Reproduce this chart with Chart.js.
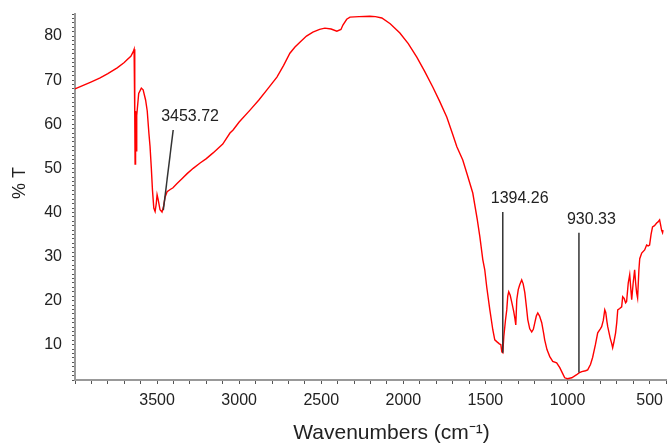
<!DOCTYPE html>
<html lang="en">
<head>
<meta charset="UTF-8">
<title>IR spectrum</title>
<script src="https://cdn.jsdelivr.net/npm/chart.js@4"></script>
<style>
  body { margin: 0; background: #fff; }
  .chart-box { width: 668px; height: 443px; }
</style>
</head>
<body>
<div class="chart-box"><canvas id="irChart"></canvas></div>
<script>
// spectrum
const wavenumbers = [
  4000, 3950, 3900, 3847, 3800, 3743, 3700, 3683, 3660, 3646, 3640,
  3636, 3634, 3631, 3628, 3624, 3612, 3596, 3585, 3570, 3560, 3550,
  3543, 3535, 3528, 3520, 3512, 3505, 3500, 3494, 3482, 3470, 3460,
  3451, 3439, 3420, 3403, 3380, 3350, 3317, 3280, 3238, 3200, 3159,
  3100, 3056, 3037, 3000, 2934, 2880, 2831, 2770, 2730, 2691, 2660,
  2630, 2590, 2551, 2510, 2478, 2440, 2405, 2380, 2368, 2345, 2325,
  2270, 2204, 2170, 2131, 2080, 2021, 1970, 1918, 1870, 1820, 1780,
  1735, 1700, 1674, 1638, 1610, 1577, 1550, 1534, 1516, 1504, 1492,
  1473, 1455, 1443, 1431, 1415, 1406, 1400, 1394, 1388, 1378, 1370,
  1364, 1358, 1349, 1340, 1328, 1321, 1315, 1309, 1300, 1291, 1279,
  1270, 1260, 1250, 1242, 1230, 1218, 1208, 1199, 1190, 1181, 1170,
  1157, 1145, 1139, 1125, 1108, 1090, 1066, 1047, 1030, 1017, 1000,
  974, 944, 930, 913, 890, 877, 860, 847, 830, 816, 800, 792, 782,
  773, 767, 760, 755, 740, 731, 725, 718, 707, 700, 694, 682, 670,
  664, 655, 646, 640, 630, 621, 615, 609, 600, 591, 585, 579, 573,
  565, 560, 548, 530, 518, 509, 500, 491, 482, 470, 457, 450, 439,
  432, 427, 421, 418
];
const transmittance = [
  68.0, 68.8, 69.6, 70.5, 71.5, 72.8, 74.0, 74.6, 75.4, 76.4, 77.0,
  62.0, 51.0, 63.0, 54.0, 62.0, 67.0, 68.2, 67.8, 65.5, 63.0, 58.0,
  55.0, 50.0, 45.0, 41.0, 40.2, 42.0, 44.0, 43.0, 40.6, 40.1, 41.5,
  43.5, 44.7, 45.2, 45.6, 46.5, 47.6, 48.8, 50.0, 51.2, 52.2, 53.5,
  55.5, 58.0, 58.7, 60.5, 63.2, 65.5, 67.8, 70.7, 73.3, 76.1, 77.5,
  78.6, 80.0, 80.9, 81.5, 81.8, 81.6, 81.1, 81.5, 82.5, 83.8, 84.3,
  84.4, 84.5, 84.4, 84.1, 82.8, 80.7, 78.3, 75.2, 72.0, 68.4, 65.3,
  61.6, 57.8, 54.9, 51.9, 48.5, 44.4, 38.5, 34.5, 29.3, 27.0, 23.1,
  17.9, 13.4, 11.1, 10.7, 10.2, 10.0, 8.4, 8.2, 11.8, 15.5, 17.9,
  21.0, 22.0, 21.2, 19.7, 17.6, 16.1, 14.5, 20.2, 22.5, 23.6, 24.7,
  23.8, 21.8, 18.5, 15.7, 13.6, 12.9, 13.5, 15.0, 16.5, 17.2, 16.5,
  15.0, 12.5, 11.1, 8.9, 7.3, 6.2, 5.9, 4.8, 3.5, 2.5, 2.3,
  2.5, 3.2, 3.6, 3.9, 4.1, 4.3, 5.5, 7.1, 10.0, 12.7, 13.6, 14.1, 15.5,
  17.9, 17.3, 15.3, 14.1, 11.5, 10.3, 9.3, 10.5, 12.7, 15.0, 17.9, 18.2, 18.6,
  20.9, 20.5, 19.5, 19.8, 24.0, 25.9, 23.0, 20.2, 24.0, 27.0, 24.0, 21.8, 20.6,
  27.0, 29.5, 30.8, 31.5, 32.6, 32.4, 32.6, 35.0, 36.7, 37.0, 37.6, 37.8, 38.3,
  37.0, 36.0, 35.4, 36.0
];

// marked peaks
const peakLabels = ["3453.72", "1394.26", "930.33"];
const peakBottomX = [3462, 1394.26, 930.33];
const peakBottomY = [40.5, 8.2, 3.7];
const peakTopX = [3402, 1394.26, 930.33];
const peakTopY = [58.7, 40.1, 35.4];

// labelled ticks
const xTickLabels = [3500, 3000, 2500, 2000, 1500, 1000, 500];
const yTickLabels = [10, 20, 30, 40, 50, 60, 70, 80];

Chart.defaults.font.family = "'Liberation Sans', Arial, sans-serif";
Chart.defaults.color = "#222";

const spectrum = wavenumbers.map((w, i) => ({ x: w, y: transmittance[i] }));

const markerSets = peakLabels.map((label, i) => ({
  label: label,
  data: [
    { x: peakBottomX[i], y: peakBottomY[i] },
    { x: peakTopX[i], y: peakTopY[i] }
  ],
  borderColor: "#333",
  borderWidth: 1.5,
  pointRadius: 0,
  order: 0
}));

// peak numbers and axis titles
const textPlugin = {
  id: "textPlugin",
  afterDatasetsDraw(chart) {
    const ctx = chart.ctx;
    const xs = chart.scales.x;
    const ys = chart.scales.y;
    const area = chart.chartArea;
    ctx.save();
    ctx.fillStyle = "#222";
    ctx.font = "16px 'Liberation Sans', Arial, sans-serif";
    ctx.textAlign = "left";
    ctx.textBaseline = "alphabetic";
    peakLabels.forEach((label, i) => {
      const x = xs.getPixelForValue(peakTopX[i]);
      const y = ys.getPixelForValue(peakTopY[i]);
      ctx.fillText(label, x - 12, y - 9);
    });

    ctx.font = "21px 'Liberation Sans', Arial, sans-serif";
    ctx.textAlign = "center";
    ctx.textBaseline = "middle";
    ctx.fillText("Wavenumbers (cm⁻¹)", (area.left + area.right) / 2 + 21, area.bottom + 53);

    ctx.font = "18px 'Liberation Sans', Arial, sans-serif";
    ctx.translate(20, (area.top + area.bottom) / 2 - 14);
    ctx.rotate(-Math.PI / 2);
    ctx.fillText("% T", 0, 0);
    ctx.restore();
  }
};

new Chart(document.getElementById("irChart"), {
  type: "line",
  data: {
    datasets: [{
      label: "%T",
      data: spectrum,
      borderColor: "#ff0000",
      borderWidth: 1.4,
      pointRadius: 0,
      tension: 0,
      fill: false,
      clip: false,
      order: 1
    }, ...markerSets]
  },
  options: {
    responsive: true,
    maintainAspectRatio: false,
    animation: false,
    layout: { padding: { top: 14, right: 2, left: 0, bottom: 0 } },
    plugins: {
      legend: { display: false },
      tooltip: { enabled: false }
    },
    scales: {
      x: {
        type: "linear",
        reverse: true,
        min: 400,
        max: 4000,
        // fixed axis box, no extra edge padding for the (empty) end labels
        afterFit: s => { s.height = 63; s.paddingLeft = 0; s.paddingRight = 0; },
        border: { color: "#999", width: 2 },
        grid: { drawOnChartArea: false, tickLength: 4, color: "#555" },
        ticks: {
          stepSize: 100,
          autoSkip: false,
          maxRotation: 0,
          padding: 7,
          font: { size: 16 },
          callback: v => xTickLabels.includes(v) ? String(v) : ""
        }
      },
      y: {
        min: 2,
        max: 85,
        afterFit: s => { s.width = 75; s.paddingTop = 0; s.paddingBottom = 0; },
        border: { color: "#999", width: 2 },
        grid: { drawOnChartArea: false, tickLength: 3, color: "#555" },
        ticks: {
          stepSize: 1,
          autoSkip: false,
          padding: 10,
          font: { size: 16 },
          callback: v => yTickLabels.includes(v) ? String(v) : ""
        }
      }
    }
  },
  plugins: [textPlugin]
});
</script>
</body>
</html>
